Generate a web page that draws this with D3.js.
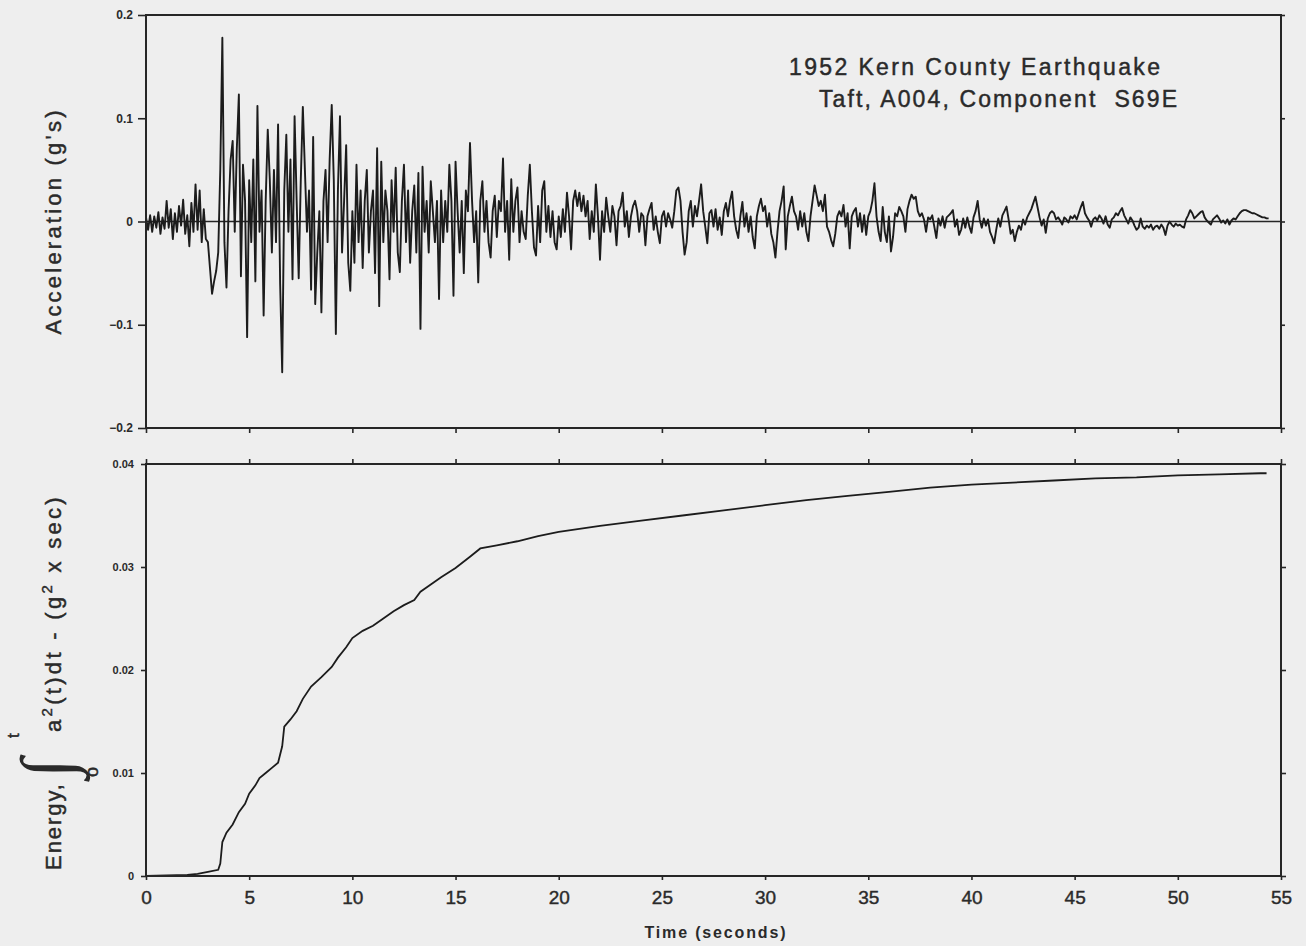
<!DOCTYPE html>
<html>
<head>
<meta charset="utf-8">
<script src="https://cdn.jsdelivr.net/npm/d3@7/dist/d3.min.js"></script>
<style>
  html, body { margin: 0; padding: 0; background: #eeeeee; }
  svg { display: block; }
  text { font-family: "Liberation Sans", Arial, Helvetica, sans-serif; fill: #2a2a2a; }
  .lbl { stroke: #2a2a2a; stroke-width: 0.45px; }
</style>
</head>
<body>
<svg id="chart" width="1306" height="946"></svg>
<script>
// ---------------- DATA ----------------
const titleLines = ["1952 Kern County Earthquake", "Taft, A004, Component  S69E"];
const xTicks = [0, 5, 10, 15, 20, 25, 30, 35, 40, 45, 50, 55];
const accTicks = [-0.2, -0.1, 0, 0.1, 0.2];
const accTickLabels = ["\u22120.2", "\u22120.1", "0", "0.1", "0.2"];
const energyTicks = [0, 0.01, 0.02, 0.03, 0.04];
const energyTickLabels = ["0", "0.01", "0.02", "0.03", "0.04"];

// acceleration samples (g), every 0.1 s starting at t = 0, one row per second
const accStep = 0.1;
const accValues = [
  0.004,-0.008,0.006,-0.010,0.005,-0.006,0.009,-0.012,0.004,-0.007,
  0.020,-0.006,0.012,-0.017,0.008,-0.010,0.015,-0.004,0.021,-0.012,
  0.006,-0.024,0.018,-0.010,0.036,-0.008,0.030,-0.020,0.012,-0.017,
  -0.020,-0.045,-0.070,-0.058,-0.048,-0.030,0.050,0.178,-0.020,-0.064,
  0.010,0.060,0.078,-0.010,0.070,0.123,-0.053,0.055,0.020,-0.112,
  0.040,-0.020,0.060,-0.058,0.112,-0.010,0.030,-0.091,0.020,0.089,
  0.040,-0.030,0.050,-0.020,0.094,-0.060,-0.146,0.030,0.084,-0.010,
  0.060,-0.056,0.102,0.020,-0.055,0.040,0.111,0.050,-0.010,0.030,
  -0.066,0.082,-0.080,-0.030,0.010,-0.088,0.020,0.050,-0.020,0.060,
  0.113,0.040,-0.109,0.030,0.102,-0.030,0.020,0.074,-0.040,-0.067,
  0.010,-0.040,0.055,-0.020,0.030,-0.045,0.020,0.050,-0.030,0.010,
  0.030,-0.050,0.071,-0.082,0.058,-0.020,0.030,0.010,-0.056,0.040,
  -0.010,0.052,-0.030,-0.049,0.020,0.055,-0.020,0.030,-0.040,0.010,
  0.035,-0.030,0.047,-0.104,0.053,-0.010,0.020,-0.030,0.039,0.010,
  -0.020,0.020,-0.075,0.030,-0.020,0.020,-0.010,0.055,0.020,-0.072,
  0.058,0.010,-0.030,0.020,-0.050,0.030,0.010,0.076,0.020,-0.020,
  0.010,-0.059,0.020,0.039,-0.010,0.020,-0.020,-0.035,0.010,0.025,
  -0.015,0.020,0.010,0.061,-0.010,0.020,-0.037,0.041,-0.010,0.020,
  0.033,-0.020,0.010,-0.010,-0.017,0.025,0.055,0.010,-0.025,-0.033,
  0.015,-0.020,0.030,0.039,-0.010,0.015,-0.015,0.010,-0.020,-0.027,
  0.005,-0.015,0.012,-0.010,0.028,0.005,-0.027,0.020,0.030,0.015,
  0.028,0.010,0.025,0.005,0.020,-0.017,0.010,-0.010,0.036,0.005,
  -0.037,0.010,-0.010,0.023,0.005,-0.010,0.015,0.005,-0.023,0.010,
  0.015,0.028,-0.005,0.010,-0.015,0.005,0.015,0.020,0.010,-0.010,
  0.008,0.005,-0.023,0.005,0.012,0.018,-0.008,0.005,-0.010,-0.021,
  0.005,0.010,-0.005,0.008,0.002,-0.006,0.010,0.030,0.033,0.020,
  -0.010,-0.032,-0.020,0.010,0.020,-0.005,0.015,0.005,0.020,0.036,
  0.010,-0.005,-0.021,0.008,0.011,-0.005,0.012,-0.008,0.004,-0.013,
  0.010,0.018,0.005,0.020,0.029,0.005,-0.008,-0.016,0.005,0.019,
  -0.005,0.008,-0.010,0.005,-0.015,-0.026,0.005,0.015,0.022,0.010,
  0.015,-0.005,0.008,-0.012,-0.020,-0.035,-0.010,0.010,0.020,0.034,
  -0.027,0.005,0.015,0.024,0.010,0.005,-0.008,0.010,-0.005,0.008,
  -0.010,-0.019,0.005,0.020,0.035,0.025,0.015,0.020,0.010,0.026,
  -0.005,-0.010,-0.018,-0.024,-0.012,0.005,0.010,0.005,0.016,-0.005,
  0.008,-0.026,0.005,0.010,0.013,-0.005,0.008,-0.010,0.006,-0.013,
  0.005,0.010,0.020,0.037,0.005,-0.010,-0.019,0.014,-0.010,-0.020,
  0.005,-0.029,-0.015,0.008,0.005,0.014,0.010,0.005,-0.010,0.012,
  0.020,0.026,0.022,0.024,0.010,0.005,0.008,0.002,-0.010,0.004,
  0.002,0.006,-0.005,-0.016,0.003,-0.004,0.005,-0.006,0.004,0.006,
  0.008,0.011,-0.005,0.002,-0.013,-0.008,0.003,-0.006,0.004,-0.005,
  -0.011,0.004,0.010,0.020,0.002,-0.006,0.003,-0.004,0.002,-0.010,
  -0.015,-0.021,-0.008,0.003,-0.005,0.006,0.010,0.0145,0.002,-0.012,
  -0.008,-0.019,-0.010,-0.004,-0.008,0.002,-0.003,0.004,0.008,0.012,
  0.018,0.024,0.014,0.004,-0.004,0.002,-0.011,0.003,0.008,0.010,
  0.008,0.002,0.004,0.001,-0.003,0.004,0.002,-0.001,0.005,0.003,
  0.006,0.002,0.008,0.014,0.019,0.008,0.004,0.001,-0.005,0.002,
  0.004,0.001,0.006,0.003,-0.002,0.005,-0.003,-0.006,0.002,0.004,
  0.008,0.006,0.010,0.013,0.006,0.002,-0.002,0.004,0.001,-0.004,
  -0.008,-0.006,0.003,-0.005,-0.007,-0.004,-0.006,-0.003,-0.008,-0.005,
  -0.004,-0.007,-0.003,-0.006,-0.013,-0.004,0.000,-0.003,-0.005,-0.002,
  -0.004,-0.003,-0.005,-0.006,0.002,0.006,0.011,0.008,0.003,0.005,
  0.007,0.009,0.010,0.004,0.001,-0.001,-0.003,0.002,0.004,0.006,
  0.003,-0.001,0.001,-0.002,0.002,-0.003,0.001,0.003,0.002,0.005,
  0.008,0.010,0.011,0.011,0.010,0.009,0.008,0.008,0.007,0.006,
  0.005,0.004,0.004,0.003,0.003
];

// cumulative energy curve (g^2 x sec)
const energyTimes = [0, 1, 2, 2.5, 3, 3.5, 3.6, 3.7, 3.9, 4.2, 4.5, 4.8, 5.0, 5.3, 5.5, 5.8, 6.1, 6.4, 6.6, 6.7, 7.0, 7.3, 7.6, 8.0, 8.5, 9.0, 9.3, 9.7, 10.0, 10.5, 11.0, 11.5, 12.0, 12.5, 13.0, 13.3, 13.8, 14.3, 15.0, 15.7, 16.2, 17.0, 18.0, 19.0, 20.0, 22.0, 24.0, 26.0, 28.0, 30.0, 32.0, 34.0, 36.0, 38.0, 40.0, 42.0, 44.0, 46.0, 48.0, 50.0, 52.0, 54.0, 54.3];
const energyValues = [0, 0.00005, 0.0001, 0.0002, 0.0004, 0.0006, 0.0012, 0.0033, 0.0042, 0.0050, 0.0062, 0.0070, 0.0080, 0.0088, 0.0095, 0.0100, 0.0105, 0.0110, 0.0126, 0.0145, 0.0152, 0.0160, 0.0172, 0.0184, 0.0193, 0.0203, 0.0212, 0.0222, 0.0231, 0.0238, 0.0243, 0.0250, 0.0257, 0.0263, 0.0268, 0.0276, 0.0283, 0.0290, 0.0299, 0.0310, 0.0318, 0.0321, 0.0325, 0.0330, 0.0334, 0.0340, 0.0345, 0.0350, 0.0355, 0.0360, 0.0365, 0.0369, 0.0373, 0.0377, 0.0380, 0.0382, 0.0384, 0.0386, 0.0387, 0.0389, 0.0390, 0.0391, 0.0391];

// ---------------- LAYOUT ----------------
const svg = d3.select("#chart");
const ink = "#262626";
const L = 146, R = 1281;
const top1 = 15, bot1 = 428, top2 = 464, bot2 = 876;

const x = d3.scaleLinear().domain([0, 55]).range([L, R]);
const yA = d3.scaleLinear().domain([-0.2, 0.2]).range([bot1, top1]);
const yE = d3.scaleLinear().domain([0, 0.04]).range([bot2, top2]);

function styleAxis(g, fs) {
  g.select(".domain").remove();
  g.selectAll(".tick line").attr("stroke", ink).attr("stroke-width", 1.6);
  g.selectAll(".tick text").attr("fill", "#2a2a2a").style("font-size", fs + "px")
    .style("font-family", '"Liberation Sans", Arial, sans-serif');
}

// ---------- top panel ----------
svg.append("g").attr("transform", `translate(${L},0)`)
  .call(d3.axisLeft(yA).tickValues(accTicks).tickSize(8).tickPadding(5)
    .tickFormat((d, i) => accTickLabels[i]))
  .call(g => styleAxis(g, 12))
  .call(g => g.selectAll(".tick text").style("font-weight", "bold"));
svg.append("g").attr("transform", `translate(${R},0)`)
  .call(d3.axisRight(yA).tickValues(accTicks).tickSize(4).tickFormat(""))
  .call(g => styleAxis(g, 12));
svg.append("g").attr("transform", `translate(0,${bot1})`)
  .call(d3.axisBottom(x).tickValues(xTicks).tickSize(5).tickFormat(""))
  .call(g => styleAxis(g, 12));

svg.append("line").attr("x1", L).attr("x2", R).attr("y1", yA(0)).attr("y2", yA(0))
  .attr("stroke", ink).attr("stroke-width", 1.3);

const accLine = d3.line().x((d, i) => x(i * accStep)).y(d => yA(d));
svg.append("path").datum(accValues).attr("d", accLine)
  .attr("fill", "none").attr("stroke", "#1c1c1c").attr("stroke-width", 1.9)
  .attr("stroke-linejoin", "round");

svg.append("rect").attr("x", L).attr("y", top1).attr("width", R - L).attr("height", bot1 - top1)
  .attr("fill", "none").attr("stroke", ink).attr("stroke-width", 2);

// title
svg.append("text").attr("class", "lbl").attr("x", 789).attr("y", 75).attr("textLength", 371).attr("lengthAdjust", "spacing")
  .style("font-size", "23px").text(titleLines[0]);
svg.append("text").attr("class", "lbl").attr("x", 819).attr("y", 107).attr("textLength", 358).attr("lengthAdjust", "spacing")
  .style("font-size", "23px").style("white-space", "pre").attr("xml:space", "preserve").text(titleLines[1]);

// y label top
svg.append("text").attr("class", "lbl").attr("transform", `translate(61,${(top1 + bot1) / 2 + 1}) rotate(-90)`)
  .attr("text-anchor", "middle").attr("textLength", 224).attr("lengthAdjust", "spacing")
  .style("font-size", "22px").text("Acceleration (g's)");

// ---------- bottom panel ----------
svg.append("g").attr("transform", `translate(${L},0)`)
  .call(d3.axisLeft(yE).tickValues(energyTicks).tickSize(5).tickPadding(7)
    .tickFormat((d, i) => energyTickLabels[i]))
  .call(g => styleAxis(g, 11))
  .call(g => g.selectAll(".tick text").style("font-weight", "bold"));
svg.append("g").attr("transform", `translate(${R},0)`)
  .call(d3.axisRight(yE).tickValues(energyTicks).tickSize(5).tickFormat(""))
  .call(g => styleAxis(g, 11));
svg.append("g").attr("transform", `translate(0,${top2})`)
  .call(d3.axisTop(x).tickValues(xTicks).tickSize(5).tickFormat(""))
  .call(g => styleAxis(g, 11));
svg.append("g").attr("transform", `translate(0,${bot2})`)
  .call(d3.axisBottom(x).tickValues(xTicks).tickSize(4).tickPadding(11))
  .call(g => styleAxis(g, 19))
  .call(g => g.selectAll(".tick text").attr("class", "lbl").style("stroke-width", "0.4px"));

const eLine = d3.line().x((d, i) => x(energyTimes[i])).y(d => yE(d));
svg.append("path").datum(energyValues).attr("d", eLine)
  .attr("fill", "none").attr("stroke", "#1c1c1c").attr("stroke-width", 1.8);

svg.append("rect").attr("x", L).attr("y", top2).attr("width", R - L).attr("height", bot2 - top2)
  .attr("fill", "none").attr("stroke", ink).attr("stroke-width", 2);

// x label
svg.append("text").attr("x", 715).attr("y", 938).attr("text-anchor", "middle")
  .attr("textLength", 141).attr("lengthAdjust", "spacing")
  .style("font-size", "16px").style("font-weight", "bold").text("Time (seconds)");

// energy y label with integral
const eg = svg.append("g").attr("transform", "translate(61,870) rotate(-90)");
eg.append("text").attr("class", "lbl").attr("x", 0).attr("y", 0).attr("textLength", 86).attr("lengthAdjust", "spacing")
  .style("font-size", "22px").text("Energy,");
eg.append("text").attr("x", 92).attr("y", 10)
  .style("font-size", "72px").style("font-family", '"Liberation Serif", serif')
  .text("\u222B");
eg.append("text").attr("class", "lbl").attr("x", 132).attr("y", -42).style("font-size", "17px").text("t");
eg.append("text").attr("class", "lbl").attr("x", 93).attr("y", 37).style("font-size", "18px").text("o");
const lab = eg.append("text").attr("class", "lbl").attr("x", 138).attr("y", 0).style("font-size", "22px")
  .style("letter-spacing", "3.3px");
lab.append("tspan").text("a");
lab.append("tspan").attr("dy", -9).style("font-size", "15px").text("2");
lab.append("tspan").attr("dy", 9).text("(t)dt - (g");
lab.append("tspan").attr("dy", -9).style("font-size", "15px").text("2");
lab.append("tspan").attr("dy", 9).text(" x sec)");
</script>
</body>
</html>
